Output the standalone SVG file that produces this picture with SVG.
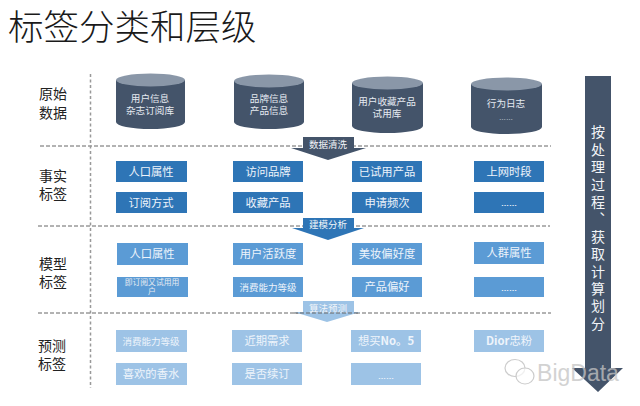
<svg xmlns="http://www.w3.org/2000/svg" width="640" height="406" viewBox="0 0 640 406">
<style>
text{font-family:"Noto Sans CJK SC","Liberation Sans",sans-serif;text-anchor:middle}
.t{font-size:35.5px;fill:#1a1a1a;text-anchor:start;font-weight:300}
.l{font-size:14px;fill:#222}
.c{font-size:9.6px;fill:#e6ebf2}
.b{font-size:11.300px;fill:#eef4fb}
.s{font-size:9.500px;fill:#eef4fb}
.e{font-family:"Liberation Sans",sans-serif;font-size:8px;font-weight:700;fill:#eef4fb}
.f{fill:#2e75b6}
.m{fill:#5b9bd5}
.p{fill:#9dc3e6}
.cb{fill:#44546a}
.ct{fill:#8a97a8}
.d{fill:none;stroke:#666;stroke-width:1;stroke-dasharray:4 2}
.v{fill:none;stroke:#999;stroke-width:1.5;stroke-dasharray:3 2.5}
.a{font-size:14px;fill:#f2f4f7;writing-mode:vertical-rl;text-anchor:start;letter-spacing:3.4px}
.tag{font-size:9.500px;fill:#f2f5f9}
</style>
<text class="t" x="8" y="40">标签分类和层级</text>
<g id="connectors">
<path class="d" d="M40 146H551"/>
<path class="d" d="M38 226H550"/>
<path class="d" d="M38 313H551"/>
<path class="v" d="M90.500 74V388"/>
</g>
<g id="row-labels">
<text class="l"><tspan x="53" y="99">原始</tspan><tspan x="53" y="118">数据</tspan></text>
<text class="l"><tspan x="53" y="181">事实</tspan><tspan x="53" y="199">标签</tspan></text>
<text class="l"><tspan x="53" y="269">模型</tspan><tspan x="53" y="287">标签</tspan></text>
<text class="l"><tspan x="52" y="351">预测</tspan><tspan x="52" y="369">标签</tspan></text>
</g>
<g id="db1"><path class="cb" d="M116 80V122A34.500 7 0 0 0 185 122V80Z"/><ellipse class="ct" cx="150.500" cy="80" rx="34.500" ry="6.500"/><text class="c"><tspan x="150" y="102">用户信息</tspan><tspan x="150" y="114">杂志订阅库</tspan></text></g>
<g id="db2"><path class="cb" d="M234 81V122A35 7 0 0 0 304 122V81Z"/><ellipse class="ct" cx="269" cy="81" rx="35" ry="6.500"/><text class="c"><tspan x="269" y="102">品牌信息</tspan><tspan x="269" y="114">产品信息</tspan></text></g>
<g id="db3"><path class="cb" d="M352 83V126A35.500 7 0 0 0 423 126V83Z"/><ellipse class="ct" cx="387.500" cy="83" rx="35.500" ry="6.500"/><text class="c"><tspan x="387" y="105">用户收藏产品</tspan><tspan x="387" y="117">试用库</tspan></text></g>
<g id="db4"><path class="cb" d="M471 84V127A35.500 7 0 0 0 542 127V84Z"/><ellipse class="ct" cx="506.500" cy="84" rx="35.500" ry="6.500"/><text class="c"><tspan x="506" y="107">行为日志</tspan><tspan x="506" y="120" style="font-family:'Liberation Sans',sans-serif;font-size:7px">……</tspan></text></g>
<g id="f1"><rect class="f" x="116" y="161" width="71" height="21"/><text class="b" x="151" y="175.500">人口属性</text></g>
<g id="f2"><rect class="f" x="233" y="161" width="70" height="21"/><text class="b" x="268" y="175.500">访问品牌</text></g>
<g id="f3"><rect class="f" x="352" y="161" width="70" height="21"/><text class="b" x="387" y="175.500">已试用产品</text></g>
<g id="f4"><rect class="f" x="474" y="161" width="70" height="21"/><text class="b" x="509" y="175.500">上网时段</text></g>
<g id="f5"><rect class="f" x="116" y="192" width="71" height="21"/><text class="b" x="151" y="206.500">订阅方式</text></g>
<g id="f6"><rect class="f" x="233" y="192" width="70" height="21"/><text class="b" x="268" y="206.500">收藏产品</text></g>
<g id="f7"><rect class="f" x="352" y="192" width="70" height="21"/><text class="b" x="387" y="206.500">申请频次</text></g>
<g id="f8"><rect class="f" x="474" y="192" width="70" height="21"/><text class="e" x="509" y="206">……</text></g>
<g id="m1"><rect class="m" x="117" y="243" width="71" height="22"/><text class="b" x="152" y="258">人口属性</text></g>
<g id="m2"><rect class="m" x="233" y="243" width="70" height="22"/><text class="b" x="268" y="258">用户活跃度</text></g>
<g id="m3"><rect class="m" x="352" y="243" width="70" height="22"/><text class="b" x="387" y="258">美妆偏好度</text></g>
<g id="m4"><rect class="m" x="474" y="242" width="70" height="22"/><text class="b" x="509" y="257">人群属性</text></g>
<g id="m5"><rect class="m" x="117" y="277" width="71" height="20"/><text class="c" style="font-size:7.800px"><tspan x="152" y="285">即订阅又试用用</tspan><tspan x="152" y="294">户</tspan></text></g>
<g id="m6"><rect class="m" x="233" y="277" width="70" height="20"/><text class="s" x="268" y="290.500">消费能力等级</text></g>
<g id="m7"><rect class="m" x="352" y="277" width="70" height="20"/><text class="b" x="387" y="291">产品偏好</text></g>
<g id="m8"><rect class="m" x="474" y="277" width="70" height="20"/><text class="e" x="509" y="291">……</text></g>
<g id="p1"><rect class="p" x="116" y="330" width="71" height="22"/><text class="s" x="151" y="344.500">消费能力等级</text></g>
<g id="p2"><rect class="p" x="232" y="330" width="70" height="22"/><text class="b" x="267" y="345">近期需求</text></g>
<g id="p3"><rect class="p" x="351" y="330" width="70" height="22"/><text class="b" x="386" y="345">想买<tspan style="font-weight:700">No。5</tspan></text></g>
<g id="p4"><rect class="p" x="474" y="330" width="70" height="22"/><text class="b" x="509" y="345"><tspan style="font-weight:700">Dior</tspan>忠粉</text></g>
<g id="p5"><rect class="p" x="116" y="363" width="71" height="22"/><text class="b" x="151" y="378">喜欢的香水</text></g>
<g id="p6"><rect class="p" x="232" y="363" width="70" height="22"/><text class="b" x="267" y="378">是否续订</text></g>
<g id="p7"><rect class="p" x="351" y="363" width="70" height="22"/><text class="e" x="386" y="379">……</text></g>
<g id="step1"><path fill="#44546a" d="M303 137H354V148H366L328 160L291 148H303Z"/><text class="tag" x="328" y="148">数据清洗</text></g>
<g id="step2"><path fill="#2e75b6" d="M303 218H354V228H364L328 240L292 228H303Z"/><text class="tag" x="328" y="228">建模分析</text></g>
<g id="step3"><path fill="#9dc3e6" d="M303 301H354V312H360L327 322L294 312H303Z"/><text class="tag" x="328" y="312">算法预测</text></g>
<path class="d" d="M294 313H360"/>
<g id="process"><path fill="#44546a" d="M585 76H611V368H623L598 392L572 368H585Z"/>
<text class="a" x="598" y="125">按处理过程、获取计算划分</text></g>
<g id="watermark" opacity="0.75"><ellipse cx="515" cy="368" rx="10" ry="8.500" fill="none" stroke="#bbb" stroke-width="1.200"/><ellipse cx="525" cy="376" rx="9" ry="8" fill="#fff" fill-opacity="0.7" stroke="#bbb" stroke-width="1.200"/>
<text x="578" y="381" style="font-family:'Liberation Sans',sans-serif;font-size:23px;fill:#c4c4c4">BigData</text></g>
</svg>
